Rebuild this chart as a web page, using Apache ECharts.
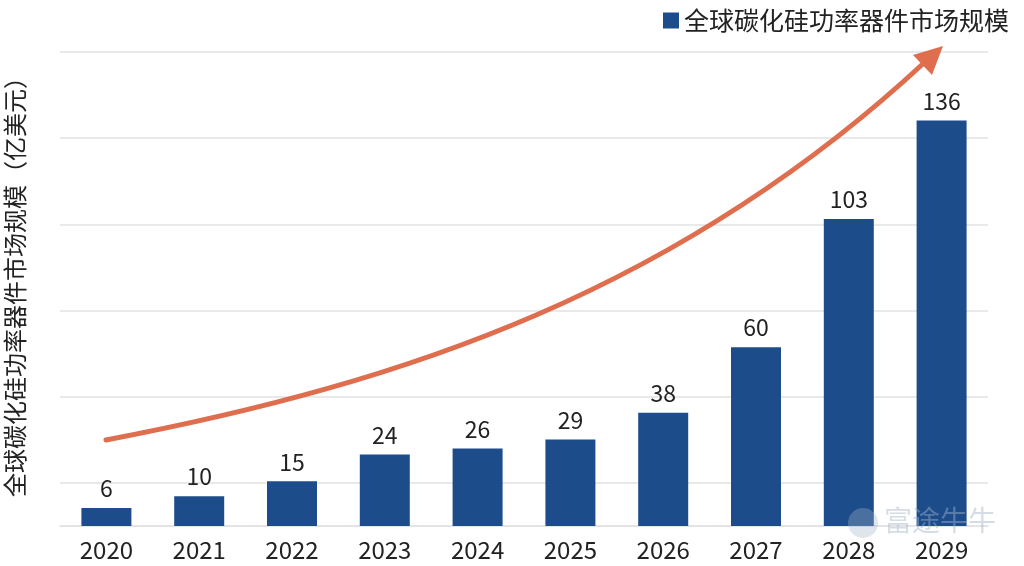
<!DOCTYPE html>
<html>
<head>
<meta charset="utf-8">
<script src="https://cdn.jsdelivr.net/npm/echarts@6/dist/echarts.min.js"></script>
<style>
  html, body { margin: 0; padding: 0; background: #fff; }
  #main { width: 1024px; height: 566px; }
</style>
</head>
<body>
<div id="main"></div>
<script>
// 数据
var years = ['2020', '2021', '2022', '2023', '2024', '2025', '2026', '2027', '2028', '2029'];
var marketSize = [6, 10, 15, 24, 26, 29, 38, 60, 103, 136];
var seriesName = '全球碳化硅功率器件市场规模';
var yTitle = '全球碳化硅功率器件市场规模（亿美元）';

var barColor = '#1d4c8a';
var arrowColor = '#df6e4f';
var font = 'Noto Sans CJK SC';

var chart = echarts.init(document.getElementById('main'));

chart.setOption({
    backgroundColor: '#fff',
    textStyle: { fontFamily: font },
    legend: {
        data: [seriesName],
        right: 10,
        top: 3,
        icon: 'rect',
        itemWidth: 16,
        itemHeight: 16,
        itemGap: 6,
        textStyle: { fontSize: 25, color: '#222', fontFamily: font }
    },
    grid: { left: 60, right: 36, top: 52, bottom: 40, outerBoundsMode: 'none', containLabel: false },
    xAxis: {
        type: 'category',
        data: years,
        axisLine: { lineStyle: { color: '#dcdcdc', width: 1.5 } },
        axisTick: { show: false },
        axisLabel: { fontSize: 24, color: '#222', margin: 12, fontFamily: font }
    },
    yAxis: [{
        // 柱子用
        type: 'value',
        min: 0,
        max: 159,
        axisLabel: { show: false },
        axisLine: { show: false },
        axisTick: { show: false },
        splitLine: { show: false },
        name: yTitle,
        nameLocation: 'middle',
        nameRotate: 90,
        nameGap: 33,
        nameTextStyle: { fontSize: 24, color: '#222', fontFamily: font, padding: [0, 0, 0, 16] }
    }, {
        // 网格线用 (隔一条画一条)
        type: 'value',
        min: 0,
        max: 11,
        interval: 1,
        position: 'left',
        axisLabel: { show: false },
        axisLine: { show: false },
        axisTick: { show: false },
        splitLine: {
            show: true,
            lineStyle: { color: ['rgba(0,0,0,0)', '#e2e2e2'], width: 1.5 }
        }
    }],
    series: [{
        name: seriesName,
        type: 'bar',
        yAxisIndex: 0,
        data: marketSize,
        barWidth: 50,
        itemStyle: { color: barColor },
        label: {
            show: true,
            position: 'top',
            distance: 8,
            fontSize: 23,
            color: '#222',
            fontFamily: font
        }
    }],
    graphic: [
        // 增长箭头
        {
            type: 'bezierCurve',
            z: 10,
            shape: { x1: 106, y1: 440, cpx1: 406, cpy1: 383, cpx2: 680, cpy2: 290, x2: 926, y2: 61 },
            style: { stroke: arrowColor, lineWidth: 5, fill: null, lineCap: 'round' }
        },
        {
            type: 'polygon',
            z: 10,
            shape: { points: [[943, 46], [932, 75], [913, 55]] },
            style: { fill: arrowColor }
        },
        // 水印
        {
            type: 'circle',
            z: 20,
            shape: { cx: 863, cy: 523, r: 15 },
            style: { fill: 'rgba(160,180,200,0.35)' }
        },
        {
            type: 'text',
            z: 20,
            left: 884,
            top: 506,
            style: {
                text: '富途牛牛',
                fontSize: 28,
                fontFamily: font,
                fill: 'rgba(160,180,200,0.45)'
            }
        }
    ]
});
</script>
</body>
</html>
